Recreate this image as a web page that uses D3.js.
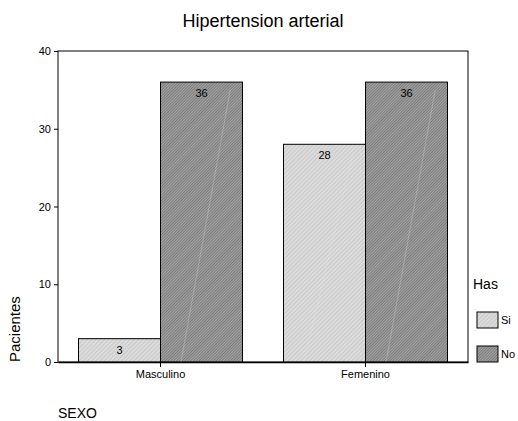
<!DOCTYPE html>
<html>
<head>
<meta charset="utf-8">
<script src="https://cdn.jsdelivr.net/npm/d3@7"></script>
<style>
  body { margin: 0; background: #fff; }
  svg { font-family: "Liberation Sans", Arial, sans-serif; }
</style>
</head>
<body>
<svg id="chart" width="518" height="421"></svg>
<script>
// data
const categories = ['Masculino', 'Femenino'];
const seriesNames = ['Si', 'No'];
const siValues = [3, 28];
const noValues = [36, 36];
const yTicks = [0, 10, 20, 30, 40];

const margin = { left: 58, top: 51, right: 50, bottom: 59 };
const width = 518, height = 421;

const svg = d3.select('#chart');

// hatch patterns like the spss look
const defs = svg.append('defs');
const pats = [
  { id: 'pat-si', bg: '#dcdcdc', fg: '#c8c8c8', size: 3 },
  { id: 'pat-no', bg: '#a6a6a6', fg: '#7a7a7a', size: 2 }
];
pats.forEach(p => {
  const pat = defs.append('pattern')
    .attr('id', p.id)
    .attr('patternUnits', 'userSpaceOnUse')
    .attr('width', p.size)
    .attr('height', p.size)
    .attr('patternTransform', 'rotate(45)');
  pat.append('rect').attr('width', p.size).attr('height', p.size).attr('fill', p.bg);
  pat.append('rect').attr('width', 1).attr('height', p.size).attr('fill', p.fg);
});

const x0 = d3.scaleBand()
  .domain(categories)
  .range([margin.left, width - margin.right])
  .paddingInner(0.2)
  .paddingOuter(0.1);

const x1 = d3.scaleBand()
  .domain(seriesNames)
  .range([0, x0.bandwidth()]);

const y = d3.scaleLinear()
  .domain([0, 40])
  .range([height - margin.bottom, margin.top]);

const fills = { Si: 'url(#pat-si)', No: 'url(#pat-no)' };

// plot frame
svg.append('rect')
  .attr('x', margin.left)
  .attr('y', margin.top)
  .attr('width', width - margin.right - margin.left)
  .attr('height', y(0) - margin.top)
  .attr('fill', 'none')
  .attr('stroke', '#000')
  .attr('stroke-width', 1);

const rows = categories.map((c, i) => ({ cat: c, vals: [siValues[i], noValues[i]] }));

const groups = svg.selectAll('.grp')
  .data(rows)
  .join('g')
  .attr('class', 'grp')
  .attr('transform', d => `translate(${x0(d.cat)},0)`);

const bars = groups.selectAll('g.bar')
  .data(d => d.vals.map((v, j) => ({ key: seriesNames[j], value: v })))
  .join('g')
  .attr('class', 'bar');

bars.append('rect')
  .attr('x', d => x1(d.key))
  .attr('y', d => y(d.value))
  .attr('width', x1.bandwidth())
  .attr('height', d => y(0) - y(d.value))
  .attr('fill', d => fills[d.key])
  .attr('stroke', '#000')
  .attr('stroke-width', 1);

// faint diagonal streak seen inside bars
bars.append('line')
  .attr('x1', d => x1(d.key) + x1.bandwidth() * 0.25)
  .attr('y1', y(0))
  .attr('x2', d => x1(d.key) + x1.bandwidth() * 0.85)
  .attr('y2', d => y(d.value) + 8)
  .attr('stroke', '#e6e6e6')
  .attr('stroke-width', 0.6)
  .attr('opacity', d => d.value > 10 ? 0.5 : 0);

bars.append('text')
  .attr('x', d => x1(d.key) + x1.bandwidth() / 2)
  .attr('y', d => y(d.value) + 15)
  .attr('text-anchor', 'middle')
  .attr('font-size', 11)
  .attr('fill', '#000')
  .text(d => d.value);

// axes
const yAxis = d3.axisLeft(y).tickValues(yTicks).tickSize(4).tickPadding(3);
const gy = svg.append('g')
  .attr('transform', `translate(${margin.left},0)`)
  .call(yAxis);
gy.select('.domain').remove();
gy.selectAll('text').attr('font-size', 11).attr('font-family', 'Liberation Sans, Arial, sans-serif').attr('fill', '#000');

const xAxis = d3.axisBottom(x0).tickSize(5).tickPadding(3).tickSizeOuter(0);
const gx = svg.append('g')
  .attr('transform', `translate(0,${y(0)})`)
  .call(xAxis);
gx.select('.domain').attr('stroke-width', 1.5);
gx.selectAll('text').attr('font-size', 11).attr('font-family', 'Liberation Sans, Arial, sans-serif').attr('fill', '#000');

// titles
svg.append('text')
  .attr('x', 263)
  .attr('y', 27)
  .attr('text-anchor', 'middle')
  .attr('font-size', 18)
  .text('Hipertension arterial');

svg.append('text')
  .attr('transform', `translate(20,${y(0)}) rotate(-90)`)
  .attr('text-anchor', 'start')
  .attr('font-size', 15)
  .text('Pacientes');

svg.append('text')
  .attr('x', margin.left)
  .attr('y', 418)
  .attr('font-size', 14)
  .text('SEXO');

// legend
const lg = svg.append('g');
lg.append('text')
  .attr('x', 473)
  .attr('y', 289)
  .attr('font-size', 14)
  .text('Has');

const items = lg.selectAll('g.item')
  .data(seriesNames)
  .join('g')
  .attr('class', 'item')
  .attr('transform', (d, i) => `translate(477,${312 + i * 34})`);

items.append('rect')
  .attr('width', 21)
  .attr('height', 16)
  .attr('fill', d => fills[d])
  .attr('stroke', '#000');

items.append('text')
  .attr('x', 24)
  .attr('y', 12)
  .attr('font-size', 11)
  .text(d => d);
</script>
</body>
</html>
